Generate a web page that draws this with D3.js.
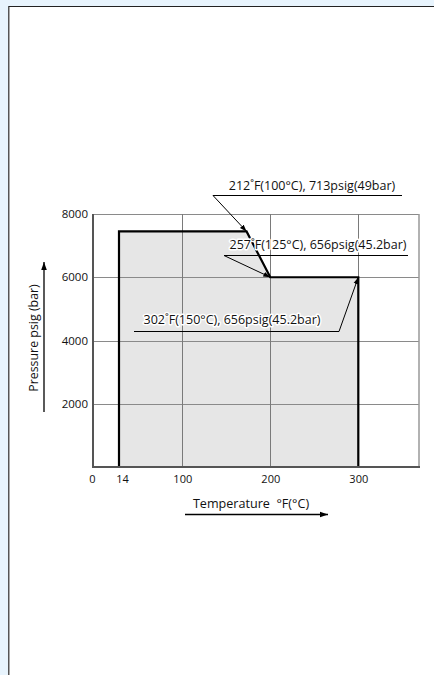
<!DOCTYPE html>
<html><head><meta charset="utf-8">
<script src="https://cdn.jsdelivr.net/npm/d3@7"></script>
<style>
html,body{margin:0;padding:0;background:#e8f4fd;}
svg{display:block;font-family:"Open Sans",sans-serif;}
</style></head>
<body>
<svg id="c" width="434" height="675"></svg>
<script>
// ---- data ----
const xTickValues = [0, 14, 100, 200, 300];
const xTickLabels = ["0", "14", "100", "200", "300"];
const yTickValues = [2000, 4000, 6000, 8000];
const yTickLabels = ["2000", "4000", "6000", "8000"];
const envelopeTemp = [14, 14, 173, 200, 300, 300];
const envelopePressure = [0, 7450, 7450, 6000, 6000, 0];
const annotationTexts = ["212˚F(100°C), 713psig(49bar)", "257˚F(125°C), 656psig(45.2bar)", "302˚F(150°C), 656psig(45.2bar)"];
const annotationTemp = [173, 200, 300];
const annotationPressure = [7450, 6000, 6000];
const xTitle = "Temperature  °F(°C)";
const yTitle = "Pressure psig (bar)";

// ---- layout ----
const svg = d3.select("#c");
const L = 93, R = 419, T = 214, B = 467;
const x = d3.scaleLinear().domain([0, 14, 100, 200, 300, 369]).range([L, 119, 182.3, 270.3, 358.3, R]);
const y = d3.scaleLinear().domain([0, 8000]).range([B, T]);

// panel
svg.append("rect").attr("x", 8).attr("y", 6).attr("width", 440).attr("height", 680).attr("fill", "#fff");
svg.append("line").attr("x1", 8).attr("x2", 434).attr("y1", 6.5).attr("y2", 6.5).attr("stroke", "#222").attr("stroke-width", 1);
svg.append("line").attr("x1", 8.5).attr("x2", 8.5).attr("y1", 6).attr("y2", 675).attr("stroke", "#555").attr("stroke-width", 1);
svg.append("line").attr("x1", 9.5).attr("x2", 9.5).attr("y1", 7).attr("y2", 675).attr("stroke", "#aaa").attr("stroke-width", 1);

const defs = svg.append("defs");
defs.append("marker").attr("id", "ah").attr("viewBox", "0 0 10 10").attr("refX", 10).attr("refY", 5)
  .attr("markerWidth", 7).attr("markerHeight", 7).attr("markerUnits", "userSpaceOnUse").attr("orient", "auto")
  .append("path").attr("d", "M0,1.5 L10,5 L0,8.5 Z").attr("fill", "#000");
defs.append("marker").attr("id", "ah2").attr("viewBox", "0 0 10 10").attr("refX", 10).attr("refY", 5)
  .attr("markerWidth", 10).attr("markerHeight", 8).attr("markerUnits", "userSpaceOnUse").attr("orient", "auto")
  .append("path").attr("d", "M0,1.5 L10,5 L0,8.5 Z").attr("fill", "#000");

// envelope fill
const pts = envelopeTemp.map((t, i) => [x(t), y(envelopePressure[i])]);
svg.append("path").attr("d", d3.line()(pts) + "Z").attr("fill", "#e6e6e6");

// grid
const g = svg.append("g");
g.selectAll("line.h").data(yTickValues).join("line").attr("class", "h")
  .attr("x1", L).attr("x2", R).attr("y1", d => Math.round(y(d)) + 0.5).attr("y2", d => Math.round(y(d)) + 0.5)
  .attr("stroke", "#8a8a8a").attr("stroke-width", 1);
g.selectAll("line.v").data([100, 200, 300]).join("line").attr("class", "v")
  .attr("x1", d => Math.round(x(d)) + 0.5).attr("x2", d => Math.round(x(d)) + 0.5).attr("y1", T).attr("y2", B)
  .attr("stroke", "#7a7a7a").attr("stroke-width", 1);
// right border
svg.append("line").attr("x1", R).attr("x2", R).attr("y1", T).attr("y2", B + 1).attr("stroke", "#999").attr("stroke-width", 1.5);

// envelope outline
svg.append("path").attr("d", d3.line()(pts)).attr("fill", "none").attr("stroke", "#000").attr("stroke-width", 2.2)
  .attr("stroke-linejoin", "miter");

// axes frame
svg.append("line").attr("x1", L).attr("x2", L).attr("y1", T).attr("y2", B + 1).attr("stroke", "#555").attr("stroke-width", 2);
svg.append("line").attr("x1", L - 1).attr("x2", R + 1).attr("y1", B).attr("y2", B).attr("stroke", "#555").attr("stroke-width", 2);

// y axis labels
const yAx = svg.append("g").attr("transform", `translate(${L - 3},0)`)
  .call(d3.axisLeft(y).tickValues(yTickValues).tickFormat((d, i) => yTickLabels[i]).tickSize(0).tickPadding(2));
yAx.select(".domain").remove();
yAx.selectAll("text").attr("font-size", 11.5).attr("font-family", "Open Sans").attr("fill", "#111");

// x axis labels
const xAx = svg.append("g").attr("transform", `translate(0,${B + 6})`)
  .call(d3.axisBottom(x).tickValues(xTickValues).tickFormat((d, i) => xTickLabels[i]).tickSize(0).tickPadding(2));
xAx.select(".domain").remove();
xAx.selectAll("text").attr("font-size", 11).attr("font-family", "Open Sans").attr("fill", "#111")
  .attr("dx", (d) => d === 0 ? -1 : d === 14 ? 3 : 0);

// titles + arrows
svg.append("text").attr("transform", "translate(38,338) rotate(-90)").attr("text-anchor", "middle")
  .attr("font-size", 12.4).attr("fill", "#111").text(yTitle);
svg.append("line").attr("x1", 44).attr("x2", 44).attr("y1", 412).attr("y2", 262).attr("stroke", "#000").attr("stroke-width", 1.3).attr("marker-end", "url(#ah2)");
svg.append("text").attr("x", 251).attr("y", 508).attr("text-anchor", "middle").attr("xml:space", "preserve")
  .style("white-space", "pre").attr("font-size", 12.6).attr("fill", "#111").text(xTitle);
svg.append("line").attr("x1", 185).attr("x2", 328).attr("y1", 514.5).attr("y2", 514.5).attr("stroke", "#000").attr("stroke-width", 1.3).attr("marker-end", "url(#ah2)");

// annotations
const annLayout = [
  {ux1: 213, ux2: 402, uy: 195, tx: 312, ty: 190, from: "left"},
  {ux1: 224, ux2: 408, uy: 255, tx: 318, ty: 249, from: "left"},
  {ux1: 134, ux2: 339, uy: 331, tx: 232, ty: 324, from: "right"}
];
annotationTexts.forEach((txt, i) => {
  const a = annLayout[i];
  const ag = svg.append("g");
  ag.append("line").attr("x1", a.ux1).attr("x2", a.ux2).attr("y1", a.uy + 0.5).attr("y2", a.uy + 0.5).attr("stroke", "#000").attr("stroke-width", 1);
  const sx = a.from === "left" ? a.ux1 : a.ux2;
  ag.append("line").attr("x1", sx).attr("y1", a.uy + 0.5)
    .attr("x2", x(annotationTemp[i])).attr("y2", y(annotationPressure[i]))
    .attr("stroke", "#000").attr("stroke-width", 1).attr("marker-end", "url(#ah)");
  ag.append("text").attr("x", a.tx).attr("y", a.ty).attr("text-anchor", "middle").attr("font-size", 12.5)
    .attr("fill", "#111").attr("stroke", "#fff").attr("stroke-width", 3).attr("paint-order", "stroke")
    .attr("stroke-linejoin", "round").text(txt);
});
</script>
</body></html>
